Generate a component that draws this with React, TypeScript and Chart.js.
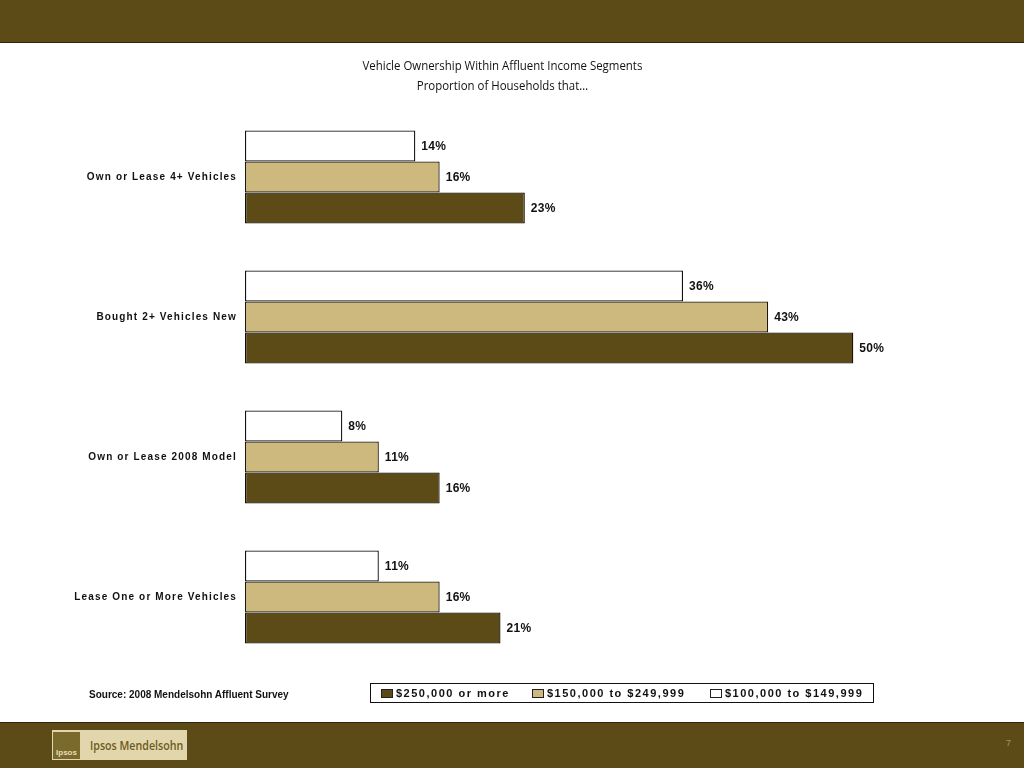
import React, { useEffect, useRef } from "react";
import { Chart, registerables } from "chart.js";

Chart.register(...registerables);

const categories = [
  "Own or Lease 4+ Vehicles",
  "Bought 2+ Vehicles New",
  "Own or Lease 2008 Model",
  "Lease One or More Vehicles",
];
const seriesNames = ["$250,000 or more", "$150,000 to $249,999", "$100,000 to $149,999"];
const values250 = [23, 50, 16, 21];
const values150 = [16, 43, 11, 16];
const values100 = [14, 36, 8, 11];
const seriesColors = ["#5c4a17", "#cdb97e", "#ffffff"];
const seriesBorders = ["#140f03", "#1e1805", "#111111"];

const OLIVE = "#5c4a17";

export default function App() {
  const ref = useRef<HTMLCanvasElement | null>(null);

  useEffect(() => {
    if (!ref.current) return;
    document.body.style.margin = "0";
    const spacingPlugin = {
      id: "spacing",
      beforeDraw(chart: any) {
        (chart.ctx as any).letterSpacing = "1.15px";
      },
      beforeDatasetsDraw(chart: any) {
        (chart.ctx as any).letterSpacing = "0px";
      },
    };
    const labelPlugin = {
      id: "valueLabels",
      afterDatasetsDraw(chart: any) {
        const ctx = chart.ctx;
        ctx.save();
        (ctx as any).letterSpacing = "0.3px";
        ctx.font = "bold 12px Arial, 'Liberation Sans', sans-serif";
        ctx.fillStyle = "#111";
        ctx.textAlign = "left";
        ctx.textBaseline = "middle";
        chart.data.datasets.forEach((ds: any, di: number) => {
          const meta = chart.getDatasetMeta(di);
          meta.data.forEach((bar: any, i: number) => {
            ctx.fillText(ds.data[i] + "%", bar.x + 6, bar.y + 1);
          });
        });
        ctx.restore();
      },
    };
    const mk = (label: string, data: number[], i: number) => ({
      label,
      data,
      backgroundColor: seriesColors[i],
      borderColor: seriesBorders[i],
      borderWidth: 1.3,
      borderSkipped: false,
    });
    const chart = new Chart(ref.current, {
      type: "bar",
      data: {
        labels: categories,
        datasets: [
          mk(seriesNames[2], values100, 2),
          mk(seriesNames[1], values150, 1),
          mk(seriesNames[0], values250, 0),
        ],
      },
      options: {
        indexAxis: "y",
        animation: false,
        responsive: false,
        devicePixelRatio: 1,
        categoryPercentage: 0.665,
        barPercentage: 1.0,
        layout: { padding: { top: 64, bottom: 56, left: 0, right: 49 } },
        plugins: {
          legend: { display: false },
          tooltip: { enabled: false },
          title: { display: false },
        },
        scales: {
          x: { display: false, min: 0, max: 60 },
          y: {
            grid: { display: false },
            border: { display: false },
            ticks: {
              color: "#111",
              padding: 0,
              font: { family: "Arial, 'Liberation Sans', sans-serif", size: 10, weight: "bold" },
            },
            afterFit(scale: any) {
              scale.width = 245;
            },
          },
        },
      },
      plugins: [spacingPlugin, labelPlugin],
    } as any);
    return () => chart.destroy();
  }, []);

  const legendX = [10, 161, 339];

  return (
    <div style={{ position: "fixed", left: 0, top: 0, width: 1024, height: 768, background: "#fff", overflow: "hidden", fontFamily: "Arial, 'Liberation Sans', sans-serif" }}>
      <div style={{ position: "absolute", left: 0, top: 0, width: 1024, height: 42, background: OLIVE, borderBottom: "1px solid #2e250a" }} />
      <div style={{ position: "absolute", left: 0, top: 722, width: 1024, height: 46, background: OLIVE, borderTop: "1px solid #2e250a" }} />
      <canvas ref={ref} width={1024} height={680} style={{ position: "absolute", left: 0, top: 43, width: 1024, height: 680 }} />
      <div style={{ position: "absolute", left: 0, top: 55, width: 1005, textAlign: "center", fontFamily: "'Open Sans', sans-serif", fontSize: 13, lineHeight: "20px", color: "#111", transform: "scaleX(0.88)", transformOrigin: "502px 0" }}>
        <div>Vehicle Ownership Within Affluent Income Segments</div>
        <div>Proportion of Households that…</div>
      </div>
      <div style={{ position: "absolute", left: 89, top: 689, fontSize: 10, fontWeight: "bold", color: "#111" }}>
        Source: 2008 Mendelsohn Affluent Survey
      </div>
      <div style={{ position: "absolute", left: 370, top: 683, width: 502, height: 18, border: "1px solid #111", background: "#fff", fontSize: 11, fontWeight: "bold", letterSpacing: "1.5px", color: "#111", boxSizing: "content-box" }}>
        {seriesNames.map((name, i) => (
          <div key={i} style={{ position: "absolute", left: legendX[i], top: 0, height: 18, display: "flex", alignItems: "center", whiteSpace: "nowrap" }}>
            <span style={{ display: "inline-block", width: 10, height: 7, background: seriesColors[i], border: "1px solid #222", marginRight: 3 }} />
            <span>{name}</span>
          </div>
        ))}
      </div>
      <div style={{ position: "absolute", left: 52, top: 730, width: 135, height: 30, background: "#e2d6ad" }}>
        <div style={{ position: "absolute", left: 1, top: 2, width: 27, height: 27, background: "#7a6a2c", color: "#e8ddb8", fontSize: 8, fontWeight: "bold", display: "flex", alignItems: "flex-end", justifyContent: "center" }}>
          <span style={{ marginBottom: 2 }}>Ipsos</span>
        </div>
        <div style={{ position: "absolute", left: 38, top: 6, fontFamily: "'Open Sans', sans-serif", fontSize: 13, fontWeight: 600, color: "#6b5a1e", whiteSpace: "nowrap", transform: "scaleX(0.82)", transformOrigin: "0 0" }}>
          Ipsos Mendelsohn
        </div>
      </div>
      <div style={{ position: "absolute", left: 1006, top: 738, fontSize: 9, color: "#a8985c" }}>7</div>
    </div>
  );
}
